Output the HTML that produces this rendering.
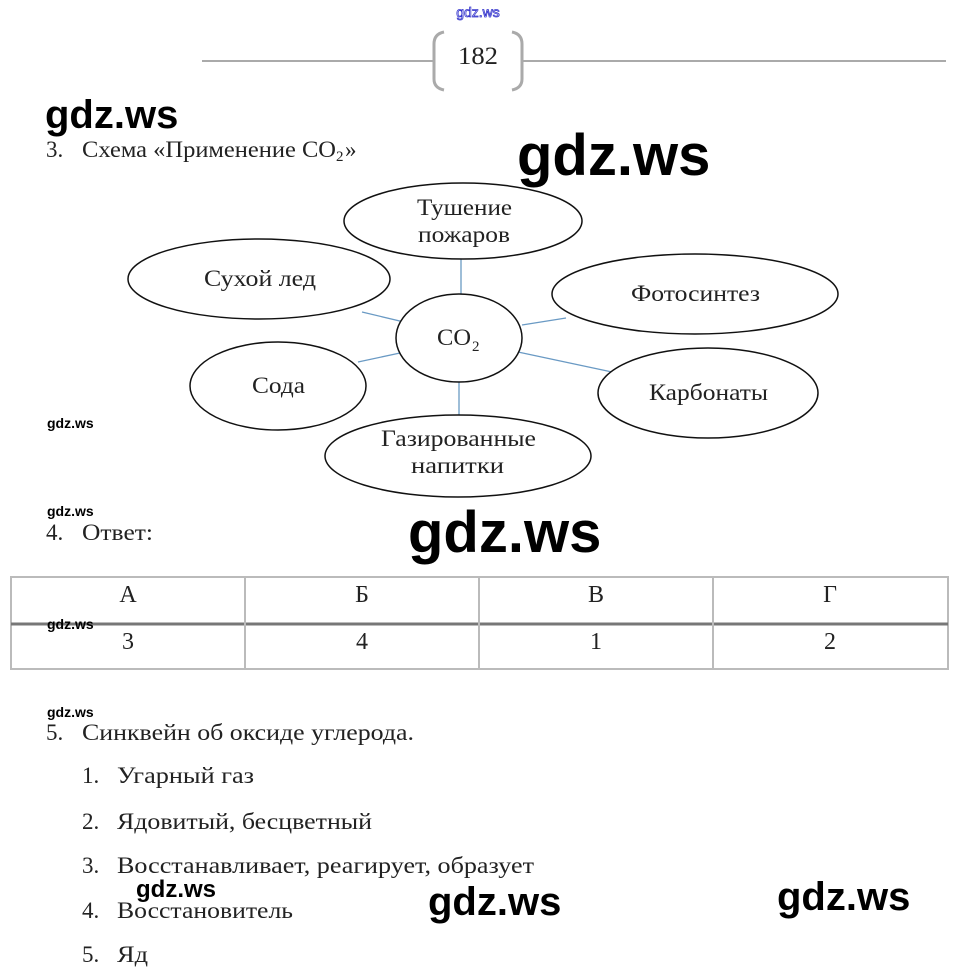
<!DOCTYPE html>
<html><head><meta charset="utf-8"><style>
body{margin:0;background:#fff;width:958px;height:977px;overflow:hidden}
svg{display:block}
.s{font-family:"Liberation Serif",serif;fill:#222}
.w{font-family:"Liberation Sans",sans-serif;font-weight:bold;fill:#000}
</style></head><body>
<svg width="958" height="977" viewBox="0 0 958 977" xmlns="http://www.w3.org/2000/svg">
<text x="478" y="17" font-family="Liberation Sans,sans-serif" font-size="14" fill="#fff" stroke="#3333cc" stroke-width="0.8" text-anchor="middle">gdz.ws</text>
<line x1="202" y1="61" x2="434" y2="61" stroke="#aaa" stroke-width="2"/>
<line x1="523" y1="61" x2="946" y2="61" stroke="#aaa" stroke-width="2"/>
<path d="M444 32 Q434 34 434 44 L434 79 Q434 88 444 90" fill="none" stroke="#aaa" stroke-width="3"/>
<path d="M512 32 Q522 34 522 44 L522 79 Q522 88 512 90" fill="none" stroke="#aaa" stroke-width="3"/>
<text x="478" y="64" class="s" font-size="25" text-anchor="middle" textLength="40" lengthAdjust="spacingAndGlyphs">182</text>
<text x="45" y="128" class="w" font-size="40">gdz.ws</text>
<g class="s" font-size="23">
<text x="46" y="157">3.</text>
<text x="82" y="157" textLength="254" lengthAdjust="spacingAndGlyphs">Схема «Применение CO</text>
<text x="336" y="161" font-size="15">2</text>
<text x="345" y="157">»</text>
</g>
<text x="517" y="175" class="w" font-size="58">gdz.ws</text>
<g stroke="#6a9ac4" stroke-width="1.3">
<line x1="461" y1="258" x2="461" y2="294"/>
<line x1="362" y1="312" x2="404" y2="322"/>
<line x1="522" y1="325" x2="566" y2="318"/>
<line x1="358" y1="362" x2="400" y2="353"/>
<line x1="518" y1="352" x2="612" y2="372"/>
<line x1="459" y1="382" x2="459" y2="415"/>
</g>
<g fill="#fff" stroke="#111" stroke-width="1.5">
<ellipse cx="463" cy="221" rx="119" ry="38"/>
<ellipse cx="259" cy="279" rx="131" ry="40"/>
<ellipse cx="695" cy="294" rx="143" ry="40"/>
<ellipse cx="459" cy="338" rx="63" ry="44"/>
<ellipse cx="278" cy="386" rx="88" ry="44"/>
<ellipse cx="708" cy="393" rx="110" ry="45"/>
<ellipse cx="458" cy="456" rx="133" ry="41"/>
</g>
<g class="s" font-size="23" lengthAdjust="spacingAndGlyphs">
<text x="417" y="215" textLength="95" lengthAdjust="spacingAndGlyphs">Тушение</text>
<text x="418" y="242" textLength="92" lengthAdjust="spacingAndGlyphs">пожаров</text>
<text x="204" y="286" textLength="112" lengthAdjust="spacingAndGlyphs">Сухой лед</text>
<text x="631" y="301" textLength="129" lengthAdjust="spacingAndGlyphs">Фотосинтез</text>
<text x="437" y="345" textLength="34" lengthAdjust="spacingAndGlyphs">CO</text><text x="472" y="351" font-size="15">2</text>
<text x="252" y="393" textLength="53" lengthAdjust="spacingAndGlyphs">Сода</text>
<text x="649" y="400" textLength="119" lengthAdjust="spacingAndGlyphs">Карбонаты</text>
<text x="381" y="446" textLength="155" lengthAdjust="spacingAndGlyphs">Газированные</text>
<text x="411" y="473" textLength="93" lengthAdjust="spacingAndGlyphs">напитки</text>
</g>
<text x="47" y="428" class="w" font-size="14" font-weight="normal">gdz.ws</text>
<text x="47" y="516" class="w" font-size="14" font-weight="normal">gdz.ws</text>
<g class="s" font-size="23">
<text x="46" y="540">4.</text>
<text x="82" y="540" textLength="71" lengthAdjust="spacingAndGlyphs">Ответ:</text>
</g>
<text x="408" y="552" class="w" font-size="58">gdz.ws</text>
<rect x="11" y="577" width="937" height="92" fill="none" stroke="#bbb" stroke-width="2"/>
<line x1="11" y1="624" x2="948" y2="624" stroke="#777" stroke-width="3"/>
<g stroke="#bbb" stroke-width="2"><line x1="245" y1="577" x2="245" y2="669"/><line x1="479" y1="577" x2="479" y2="669"/><line x1="713" y1="577" x2="713" y2="669"/></g>
<g class="s" font-size="24" text-anchor="middle">
<text x="128" y="602">А</text><text x="362" y="602">Б</text><text x="596" y="602">В</text><text x="830" y="602">Г</text>
<text x="128" y="649">3</text><text x="362" y="649">4</text><text x="596" y="649">1</text><text x="830" y="649">2</text>
</g>
<text x="47" y="629" class="w" font-size="14" font-weight="normal">gdz.ws</text>
<text x="47" y="717" class="w" font-size="14" font-weight="normal">gdz.ws</text>
<g class="s" font-size="23">
<text x="46" y="740">5.</text>
<text x="82" y="740" textLength="332" lengthAdjust="spacingAndGlyphs">Синквейн об оксиде углерода.</text>
<text x="82" y="783">1.</text><text x="117" y="783" textLength="137" lengthAdjust="spacingAndGlyphs">Угарный газ</text>
<text x="82" y="829">2.</text><text x="117" y="829" textLength="255" lengthAdjust="spacingAndGlyphs">Ядовитый, бесцветный</text>
<text x="82" y="873">3.</text><text x="117" y="873" textLength="417" lengthAdjust="spacingAndGlyphs">Восстанавливает, реагирует, образует</text>
<text x="82" y="918">4.</text><text x="117" y="918" textLength="176" lengthAdjust="spacingAndGlyphs">Восстановитель</text>
<text x="82" y="962">5.</text><text x="117" y="962" textLength="31" lengthAdjust="spacingAndGlyphs">Яд</text>
</g>
<text x="136" y="897" class="w" font-size="24">gdz.ws</text>
<text x="428" y="915" class="w" font-size="40">gdz.ws</text>
<text x="777" y="910" class="w" font-size="40">gdz.ws</text>
</svg>
</body></html>
